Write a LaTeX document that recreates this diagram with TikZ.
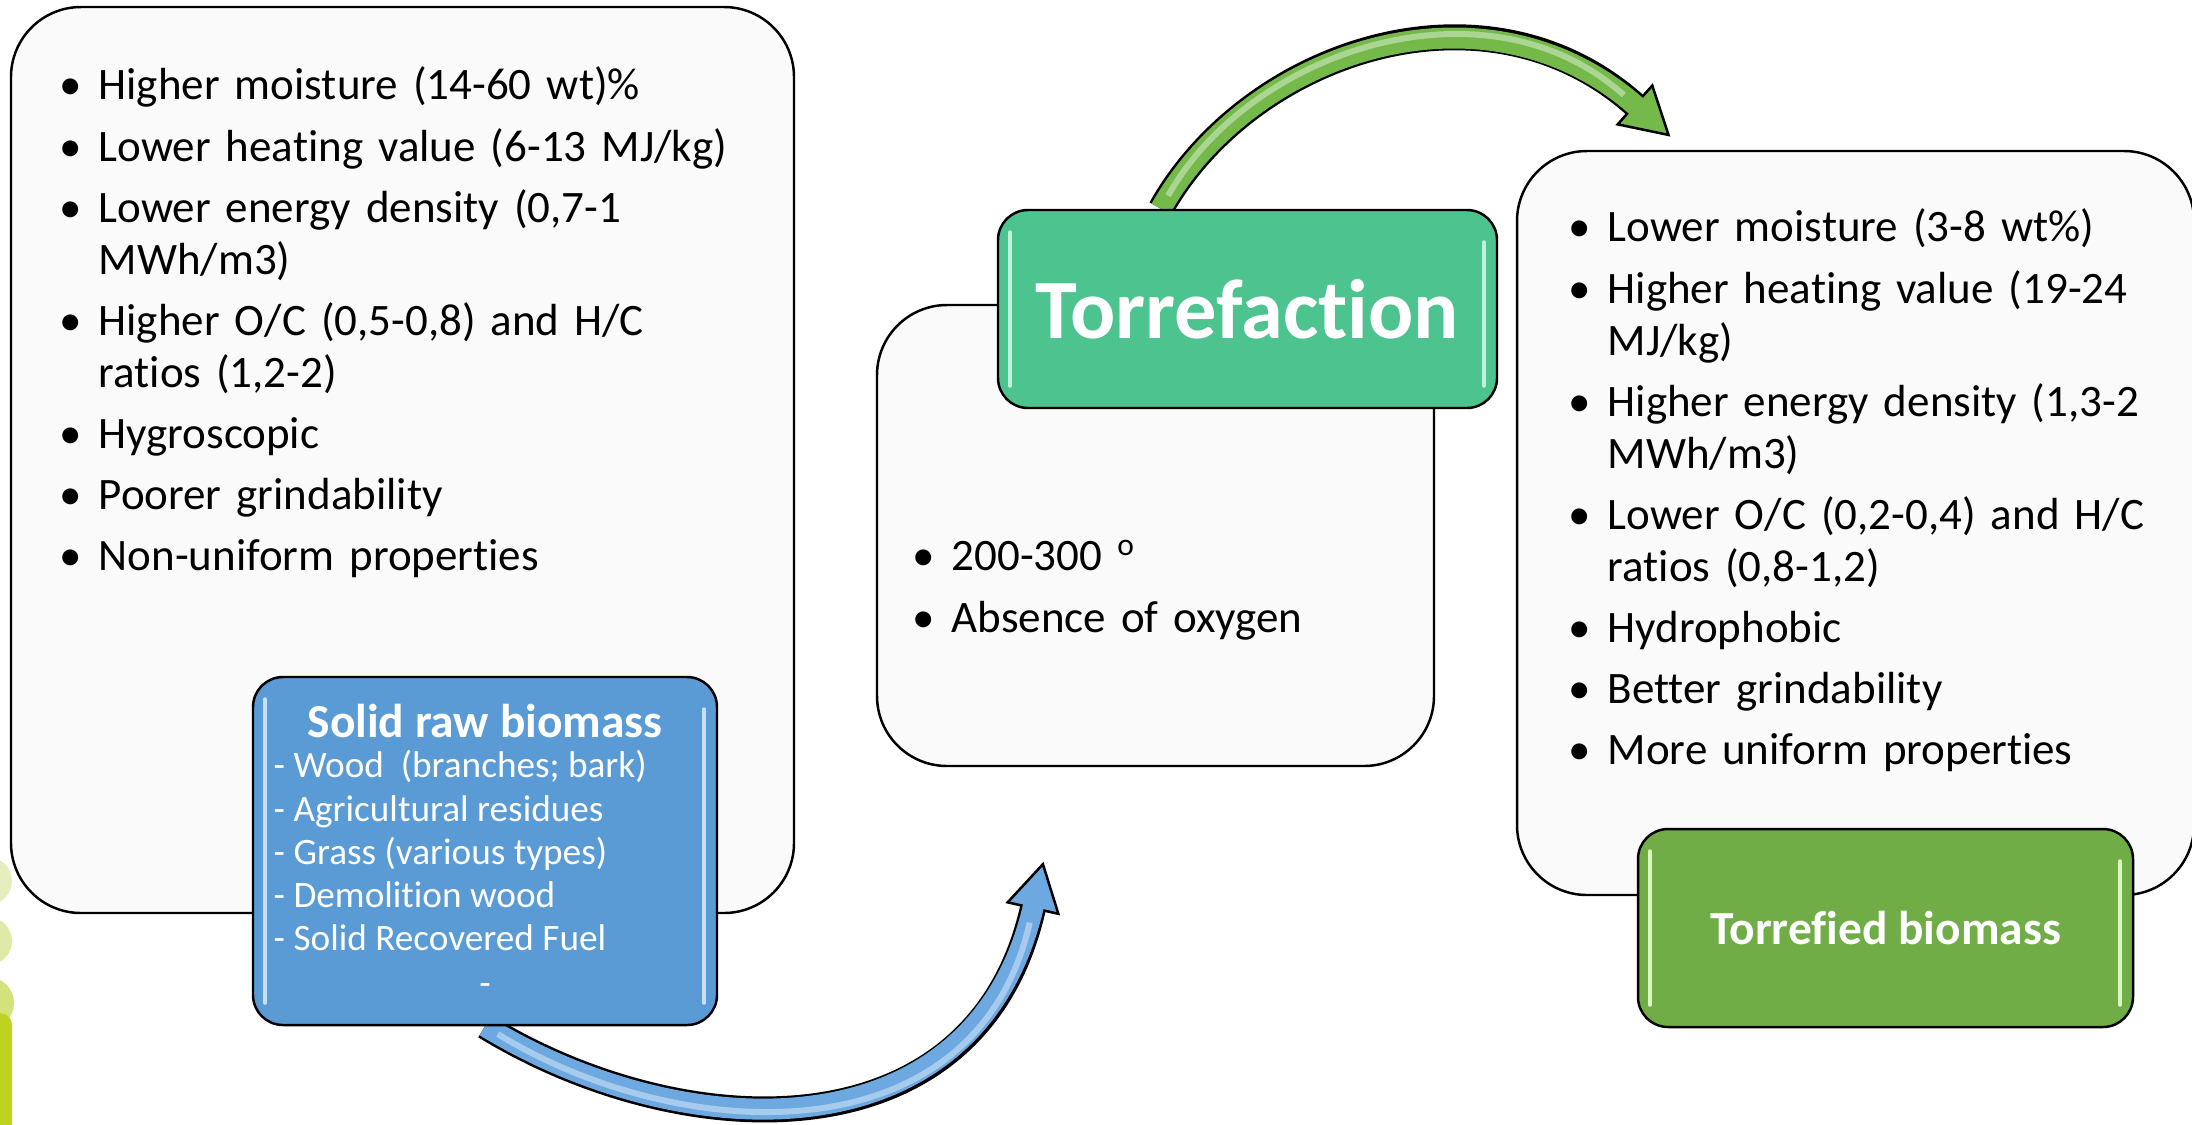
\documentclass[tikz,border=0pt]{standalone}
\usepackage{fontspec}
\setmainfont{Carlito}[Ligatures=NoCommon]
\usetikzlibrary{calc,decorations.markings,backgrounds}

\definecolor{rawblue}{HTML}{5B9BD5}
\definecolor{arrowblue}{HTML}{6DA9E0}
\definecolor{torrgreen}{HTML}{4DC38F}
\definecolor{leafgreen}{HTML}{70AD47}
\definecolor{arrowgreen}{HTML}{74B94A}
\definecolor{paper}{HTML}{FAFAFA}
\definecolor{lime1}{HTML}{E6EEBD}
\definecolor{lime2}{HTML}{DFEAA8}
\definecolor{lime3}{HTML}{D3E27B}
\definecolor{lime4}{HTML}{BED31F}
\definecolor{glowblue}{HTML}{C9E1F7}
\definecolor{glowmint}{HTML}{C2F2DC}
\definecolor{glowleaf}{HTML}{DDF7C4}

% one bullet line of a list, wrapped lines hang under the text
\newcommand{\bul}[1]{\par\hangindent=3.9mm\hangafter=1\noindent\makebox[3.9mm][l]{\textbullet}#1}

\tikzset{
  panel/.style={draw=black, line width=0.7pt, fill=paper, rounded corners=7mm, inner sep=0pt},
  glossy/.style={path picture={
      \draw[#1, line width=0.35mm, line cap=round]
        ($(path picture bounding box.north west)+(1.2mm,-2.2mm)$) -- ($(path picture bounding box.south west)+(1.2mm,2.2mm)$)
        ($(path picture bounding box.north east)+(-1.3mm,-3.2mm)$) -- ($(path picture bounding box.south east)+(-1.3mm,2.2mm)$);
  }},
  tag/.style 2 args={draw=black, line width=0.7pt, fill=#1, glossy=#2, rounded corners=3mm,
    inner sep=0pt, text=white},
  listtext/.style={anchor=north west, inner sep=0pt, text width=#1, align=left,
    font=\fontsize{12.8}{14.8}\selectfont\setlength{\parskip}{2.6pt}},
  bend arrow/.style={draw=#1, line width=2.1mm, shorten >=-0.4mm,
    preaction={draw=black, line width=2.6mm, shorten >=0pt},
    preaction={decorate, decoration={markings, mark=at position 0.9999 with {
      \filldraw[fill=#1, draw=black, line width=0.25mm, line join=miter]
        (0,-2.6mm) -- (4.5mm,0) -- (0,2.6mm) -- cycle;}}},
    postaction={draw=white, draw opacity=0.4, line width=0.6mm, shorten >=1.5mm, shorten <=1.5mm}},
}

\begin{document}
\begin{tikzpicture}[x=0.1mm, y=-0.1mm]
  \useasboundingbox (0,0) rectangle (2192,1124);

  % Left edge ornament
  \fill[lime1] (-12,881) circle (2.4mm);
  \fill[lime2] (-12,941) circle (2.4mm);
  \fill[lime3] (-12,1003) circle (2.6mm);
  \fill[lime4, rounded corners=1.2mm] (-20,1013) rectangle (12,1140);

  % Raw biomass
  \node[panel, minimum width=78.3mm, minimum height=90.6mm] (rawprops) at (402.5,460) {};
  \node[listtext=72mm] (rawlist) at (59,38) {%
    \bul{Higher moisture (14-60 wt)\%}
    \bul{Lower heating value (6-13 MJ/kg)}
    \bul{Lower energy density (0,7-1\newline MWh/m3)}
    \bul{Higher O/C (0,5-0,8) and H/C\newline ratios (1,2-2)}
    \bul{Hygroscopic}
    \bul{Poorer grindability}
    \bul{Non-uniform properties}};

  \node[tag={rawblue}{glowblue}, minimum width=46.4mm, minimum height=34.8mm] (raw) at (485,851) {};
  \node[text=white, font=\fontsize{13.5}{16}\selectfont\bfseries, inner sep=0pt] (rawtitle) at (485,721) {Solid raw biomass};
  \node[anchor=north west, inner sep=0pt, text=white, align=left,
    font=\fontsize{10.6}{12.3}\selectfont] (rawkinds) at (273,750) {%
    - Wood\ \ (branches; bark)\\
    - Agricultural residues\\
    - Grass (various types)\\
    - Demolition wood\\
    - Solid Recovered Fuel};
  \node[anchor=base, inner sep=0pt, text=white, font=\fontsize{10.6}{12.3}\selectfont] (rawdash) at (485,995) {-};

  % Process
  \node[panel, minimum width=55.7mm, minimum height=46.1mm] (conditions) at (1155.5,535.5) {};
  \node[listtext=45mm] (condlist) at (912,509) {%
    \bul{200-300 \textsuperscript{o}}
    \bul{Absence of oxygen}};
  \node[tag={torrgreen}{glowmint}, minimum width=49.9mm, minimum height=19.8mm,
    font=\fontsize{24}{28}\selectfont\bfseries] (torr) at (1247.5,309) {Torrefaction};

  % Product
  \node[panel, minimum width=67.7mm, minimum height=74.4mm] (torrprops) at (1855.5,523) {};
  \node[listtext=61mm] (torrlist) at (1568,180) {%
    \bul{Lower moisture (3-8 wt\%)}
    \bul{Higher heating value (19-24\newline MJ/kg)}
    \bul{Higher energy density (1,3-2\newline MWh/m3)}
    \bul{Lower O/C (0,2-0,4) and H/C\newline ratios (0,8-1,2)}
    \bul{Hydrophobic}
    \bul{Better grindability}
    \bul{More uniform properties}};
  \node[tag={leafgreen}{glowleaf}, minimum width=49.5mm, minimum height=19.8mm,
    font=\fontsize{13.5}{16}\selectfont\bfseries] (product) at (1885.5,928) {Torrefied biomass};

  % Curved arrows
  \coordinate (bluehead) at (1033,908);
  \coordinate (greenhead) at (1635,105);
  \begin{pgfonlayer}{background}
    \draw[bend arrow=arrowblue] (raw.south) .. controls +(196,120) and +(-57,252) .. (bluehead);
    \draw[bend arrow=arrowgreen] ($(torr.north west)+(164,0)$) .. controls +(88,-157) and +(-150,-134) .. (greenhead);
  \end{pgfonlayer}
\end{tikzpicture}
\end{document}
